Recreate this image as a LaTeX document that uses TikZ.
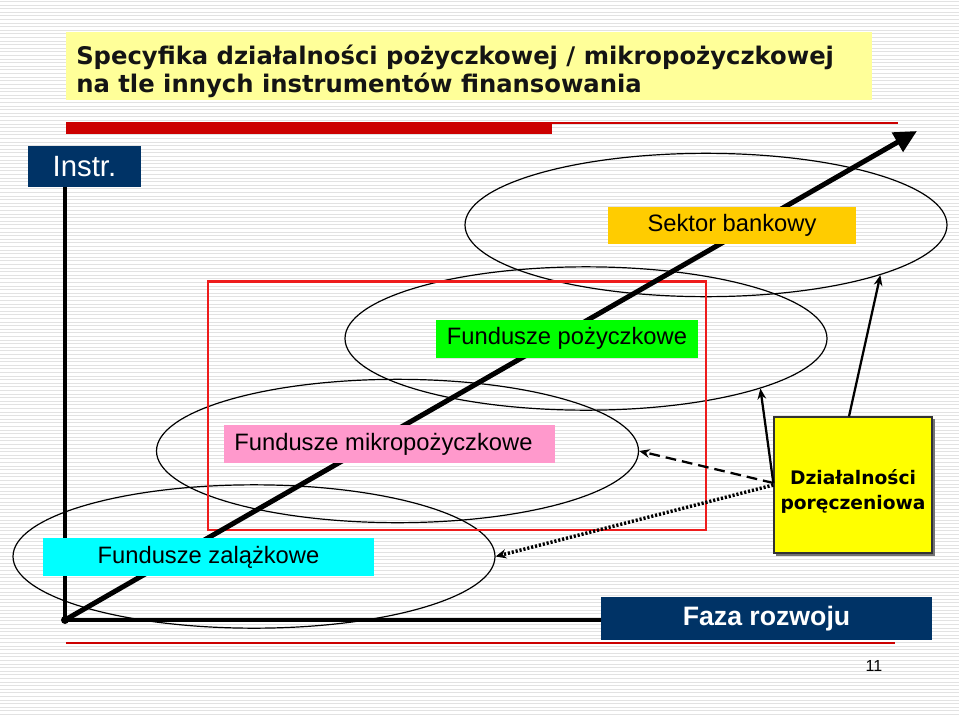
\documentclass[tikz,border=0pt]{standalone}
\usepackage{fontspec}
\setmainfont{Liberation Sans}
\newfontfamily\verd{DejaVu Sans}
\usetikzlibrary{arrows.meta,shapes.geometric}
\definecolor{navy}{HTML}{003366}
\definecolor{titleyellow}{HTML}{FFFF99}
\definecolor{barred}{HTML}{CC0000}
\definecolor{rectred}{HTML}{EE1C1C}
\definecolor{sektorc}{HTML}{FFCC00}
\definecolor{greenc}{HTML}{00FF00}
\definecolor{pinkc}{HTML}{FF99CC}
\definecolor{cyanc}{HTML}{00FFFF}
\definecolor{yellowc}{HTML}{FFFF00}
\definecolor{stripec}{HTML}{E2E2E2}
\tikzset{
  stripe/.style={draw=stripec, line width=0.6pt},
  oval/.style={ellipse, draw, line width=0.9pt, inner sep=0pt, minimum width=361.5pt, minimum height=107.5pt},
  lbl/.style={inner sep=0pt, font=\fontsize{17.8}{20}\selectfont, text=black},
  navybox/.style={fill=navy, inner sep=0pt, text=white},
  link/.style={line width=1.7pt, -{Stealth[length=8pt,width=6.5pt]}},
}
\begin{document}
\begin{tikzpicture}[x=0.75pt,y=-0.75pt]
\useasboundingbox (0,0) rectangle (959,717);
\fill[white] (0,0) rectangle (959,717);
\foreach \i in {0,...,199} {\draw[stripe] (0,\i*3.6+1.5) -- (959,\i*3.6+1.5);}

% title
\node[fill=titleyellow, minimum width=604.5pt, minimum height=51pt, inner sep=0pt] (title) at (469,66) {};
\node[anchor=west, inner sep=0pt, align=left, font=\verd\bfseries\fontsize{18.2}{21.3}\selectfont, text=black!92] (titletext) at (76,71.5) {Specyfika działalności pożyczkowej / mikropożyczkowej\\na tle innych instrumentów finansowania};

% red bar
\fill[barred] (66,122) rectangle (552,134);
\draw[barred, line width=1.5pt] (552,123.3) -- (898,123.3);
\draw[barred, line width=1.6pt] (66,643) -- (895,643);

% ellipses
\node[oval] (e1) at (706,225) {};
\node[oval] (e2) at (586,338.5) {};
\node[oval] (e3) at (397.5,451) {};
\node[oval] (e4) at (254,556.5) {};

% red rectangle
\draw[rectred, line width=2pt] (208,281.5) rectangle (706,530);

% axes
\node[navybox, minimum width=84.75pt, minimum height=30.75pt, font=\fontsize{22}{24}\selectfont] (instr) at (84.5,166.5) {Instr.};
\node[navybox, minimum width=248.25pt, minimum height=32.25pt, font=\bfseries\fontsize{20}{24}\selectfont] (faza) at (766.5,618.5) {Faza rozwoju};
\coordinate (O) at (65,620);
\coordinate (tip) at (917,131);
\draw[line width=2.4pt] (O) -- (O |- instr.south);
\draw[line width=2.4pt] (O) -- (faza.west |- O);
\draw[line width=3.75pt, -{Triangle[length=17pt,width=16pt]}] (O) -- (tip);
\fill (O) circle (3pt);

% labels
\node[lbl, fill=sektorc, minimum width=186pt, minimum height=27.75pt] (sektor) at (732,225.5) {Sektor bankowy};
\node[lbl, fill=greenc, minimum width=196.5pt, minimum height=28.5pt] (pozycz) at (567,338.5) {Fundusze pożyczkowe};
\node[lbl, fill=pinkc, minimum width=248.25pt, minimum height=28.5pt] (mikro) at (389.5,444) {Fundusze mikropożyczkowe\hspace*{9pt}};
\node[lbl, fill=cyanc, minimum width=248.25pt, minimum height=28.5pt] (zalaz) at (208.5,557) {Fundusze zalążkowe};

% guarantee box
\fill[black!55] (776,419) rectangle (935,556);
\node[draw=black!80, line width=1pt, fill=yellowc, minimum width=118.5pt, minimum height=102pt, inner sep=0pt] (por) at (853,485) {};
\node[align=center, inner sep=0pt, font=\verd\bfseries\fontsize{14}{18.75}\selectfont] (portext) at (853,491) {Działalności\\poręczeniowa};

% connectors
\draw[link] ([yshift=1.5pt]por.west) -- (e2.-16.9);
\draw[link] ([xshift=-3pt]por.north) -- (e1.-16.8);
\draw[link, dash pattern=on 8pt off 4.5pt] ([yshift=1.5pt]por.west) -- (e3.east);
\draw[line width=2.6pt, dash pattern=on 1.6pt off 1.4pt, -{Stealth[length=8pt,width=7pt]}] (por.west) -- (e4.east);

\node[font=\fontsize{12}{14}\selectfont, inner sep=0pt] (page) at (874,666) {11};
\end{tikzpicture}
\end{document}
